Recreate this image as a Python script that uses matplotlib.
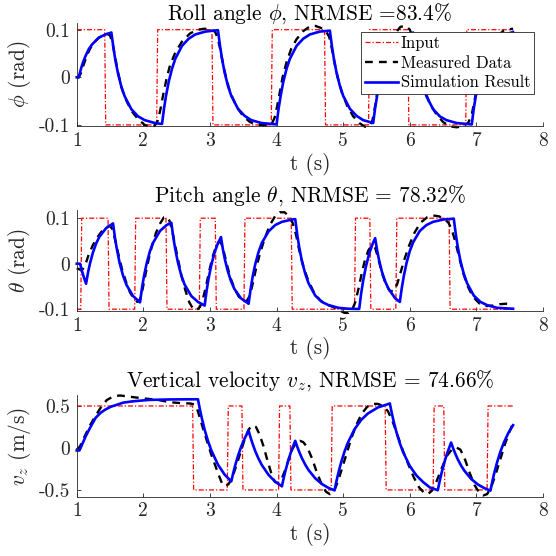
import numpy as np
import matplotlib
matplotlib.use("Agg")
import matplotlib.pyplot as plt
from matplotlib.lines import Line2D

plt.rcParams['font.family'] = 'serif'
plt.rcParams['font.serif'] = ['cmr10']
plt.rcParams['mathtext.fontset'] = 'cm'
plt.rcParams['axes.unicode_minus'] = False

# ---------------- data ----------------
t_end = 7.55

# Roll: input switch times, start level +0.1
roll_switch = [1.42, 2.20, 3.03, 3.92, 4.72, 5.38, 5.97, 6.84]
roll_start_level = 1
roll_amp = 0.1
roll_sim = [(1.00, 0.0), (1.03, 0.0), (1.06, 0.016), (1.09, 0.030), (1.13, 0.044), (1.18, 0.059),
            (1.23, 0.069), (1.33, 0.083), (1.43, 0.090), (1.52, 0.094),
            (1.55, 0.063), (1.58, 0.036), (1.62, 0.008), (1.67, -0.020), (1.72, -0.040), (1.82, -0.067),
            (1.92, -0.082), (2.02, -0.090), (2.17, -0.096), (2.28, -0.098),
            (2.31, -0.066), (2.34, -0.039), (2.38, -0.010), (2.43, 0.018), (2.48, 0.039), (2.58, 0.066),
            (2.68, 0.081), (2.78, 0.090), (2.93, 0.096), (3.12, 0.099),
            (3.15, 0.067), (3.18, 0.040), (3.22, 0.010), (3.27, -0.018), (3.32, -0.039), (3.42, -0.066),
            (3.52, -0.081), (3.62, -0.090), (3.77, -0.096), (4.00, -0.099),
            (4.03, -0.066), (4.06, -0.040), (4.10, -0.010), (4.15, 0.018), (4.20, 0.039), (4.30, 0.066),
            (4.40, 0.081), (4.50, 0.090), (4.65, 0.096), (4.80, 0.098),
            (4.83, 0.066), (4.86, 0.039), (4.90, 0.010), (4.95, -0.018), (5.00, -0.039), (5.10, -0.066),
            (5.20, -0.081), (5.30, -0.090), (5.45, -0.096),
            (5.48, -0.064), (5.51, -0.038), (5.55, -0.009), (5.60, 0.019), (5.65, 0.040), (5.75, 0.067),
            (5.85, 0.081), (5.95, 0.090), (6.05, 0.094),
            (6.08, 0.063), (6.11, 0.036), (6.15, 0.008), (6.20, -0.020), (6.25, -0.040), (6.35, -0.067),
            (6.45, -0.082), (6.55, -0.090), (6.70, -0.096), (6.93, -0.099),
            (6.96, -0.066), (6.99, -0.040), (7.03, -0.010), (7.08, 0.018), (7.13, 0.039), (7.23, 0.066),
            (7.33, 0.081), (7.43, 0.090), (7.55, 0.095)]
roll_meas = [(1.00, -0.002), (1.03, 0.0), (1.06, 0.008), (1.10, 0.025), (1.15, 0.045), (1.20, 0.060),
             (1.26, 0.073), (1.33, 0.083), (1.40, 0.089), (1.46, 0.091), (1.50, 0.088), (1.54, 0.070),
             (1.58, 0.040), (1.62, 0.010), (1.67, -0.020), (1.72, -0.042), (1.82, -0.070), (1.92, -0.088),
             (2.02, -0.100), (2.10, -0.104), (2.17, -0.102), (2.22, -0.090), (2.26, -0.065), (2.30, -0.035),
             (2.35, -0.002), (2.40, 0.025), (2.48, 0.052), (2.58, 0.075), (2.70, 0.092), (2.82, 0.100),
             (2.92, 0.102), (3.02, 0.101), (3.08, 0.095), (3.12, 0.080), (3.16, 0.055), (3.20, 0.025),
             (3.25, -0.005), (3.30, -0.030), (3.40, -0.062), (3.50, -0.082), (3.60, -0.094), (3.72, -0.100),
             (3.85, -0.101), (3.93, -0.097), (3.97, -0.085), (4.01, -0.060), (4.05, -0.030), (4.09, 0.000),
             (4.15, 0.032), (4.22, 0.060), (4.30, 0.080), (4.40, 0.097), (4.50, 0.107), (4.58, 0.108),
             (4.66, 0.104), (4.74, 0.097), (4.79, 0.085), (4.83, 0.060), (4.87, 0.030), (4.92, -0.002),
             (4.98, -0.032), (5.06, -0.060), (5.15, -0.082), (5.25, -0.097), (5.33, -0.104), (5.40, -0.102),
             (5.44, -0.090), (5.48, -0.060), (5.52, -0.025), (5.57, 0.010), (5.63, 0.042), (5.70, 0.070),
             (5.78, 0.092), (5.86, 0.106), (5.94, 0.108), (6.00, 0.100), (6.04, 0.085), (6.08, 0.060),
             (6.12, 0.030), (6.17, 0.000), (6.23, -0.030), (6.30, -0.055), (6.40, -0.078), (6.50, -0.094),
             (6.60, -0.103), (6.70, -0.105), (6.80, -0.103), (6.88, -0.095), (6.93, -0.078), (6.97, -0.050),
             (7.01, -0.020), (7.06, 0.012), (7.12, 0.040), (7.20, 0.065), (7.30, 0.085), (7.40, 0.097),
             (7.50, 0.101), (7.55, 0.102)]

# Pitch: start level -0.1
pitch_switch = [1.06, 1.47, 1.87, 2.34, 2.84, 3.08, 3.51, 4.22, 5.17, 5.40, 5.79, 6.59]
pitch_start_level = -1
pitch_amp = 0.1
pitch_sim = [(1.00, 0.0), (1.05, 0.0), (1.08, -0.017), (1.11, -0.031), (1.14, -0.044),
             (1.17, -0.019), (1.20, 0.001), (1.24, 0.023), (1.29, 0.044), (1.34, 0.059), (1.44, 0.078), (1.545, 0.0885),
             (1.575, 0.056), (1.605, 0.030), (1.645, 0.001), (1.695, -0.026), (1.745, -0.046), (1.845, -0.071), (1.95, -0.085),
             (1.98, -0.053), (2.01, -0.027), (2.05, 0.001), (2.10, 0.028), (2.15, 0.047), (2.25, 0.072), (2.35, 0.085), (2.42, 0.090),
             (2.45, 0.058), (2.48, 0.031), (2.52, 0.002), (2.57, -0.026), (2.62, -0.046), (2.72, -0.071), (2.82, -0.084), (2.92, -0.092),
             (2.95, -0.059), (2.98, -0.032), (3.02, -0.003), (3.07, 0.025), (3.12, 0.045), (3.165, 0.0585),
             (3.195, 0.031), (3.225, 0.009), (3.265, -0.015), (3.315, -0.038), (3.365, -0.055), (3.465, -0.076), (3.58, -0.088),
             (3.61, -0.056), (3.64, -0.029), (3.68, -0.001), (3.73, 0.026), (3.78, 0.046), (3.88, 0.071), (3.98, 0.085),
             (4.08, 0.092), (4.23, 0.097), (4.28, 0.098),
             (4.31, 0.064), (4.34, 0.036), (4.38, 0.006), (4.43, -0.022), (4.48, -0.043), (4.58, -0.070), (4.68, -0.084),
             (4.78, -0.091), (4.93, -0.097), (5.08, -0.099), (5.24, -0.0995),
             (5.27, -0.065), (5.30, -0.037), (5.34, -0.007), (5.39, 0.022), (5.44, 0.043), (5.48, 0.056),
             (5.51, 0.029), (5.54, 0.007), (5.58, -0.017), (5.63, -0.039), (5.68, -0.055), (5.78, -0.076), (5.85, -0.084),
             (5.88, -0.053), (5.91, -0.027), (5.95, 0.001), (6.00, 0.028), (6.05, 0.047), (6.15, 0.072), (6.25, 0.085),
             (6.35, 0.092), (6.50, 0.097), (6.66, 0.099),
             (6.69, 0.065), (6.72, 0.037), (6.76, 0.006), (6.81, -0.022), (6.86, -0.043), (6.96, -0.070), (7.06, -0.084),
             (7.16, -0.091), (7.31, -0.097), (7.55, -0.099)]
pitch_meas = [(1.00, -0.010), (1.05, -0.013), (1.09, -0.012), (1.13, -0.002), (1.18, 0.020), (1.24, 0.040),
              (1.30, 0.056), (1.37, 0.070), (1.44, 0.080), (1.50, 0.083), (1.54, 0.075), (1.58, 0.050),
              (1.63, 0.018), (1.68, -0.012), (1.74, -0.040), (1.80, -0.063), (1.86, -0.078), (1.91, -0.084),
              (1.95, -0.078), (1.99, -0.055), (2.03, -0.025), (2.08, 0.010), (2.13, 0.040), (2.19, 0.068),
              (2.25, 0.088), (2.31, 0.102), (2.35, 0.103), (2.39, 0.095), (2.43, 0.075), (2.47, 0.045),
              (2.52, 0.010), (2.57, -0.025), (2.63, -0.058), (2.69, -0.085), (2.75, -0.100), (2.80, -0.102),
              (2.85, -0.095), (2.89, -0.080), (2.94, -0.050), (2.99, -0.015), (3.04, 0.015), (3.09, 0.038),
              (3.13, 0.048), (3.17, 0.045), (3.21, 0.025), (3.26, -0.005), (3.31, -0.032), (3.37, -0.055),
              (3.43, -0.072), (3.50, -0.082), (3.55, -0.082), (3.60, -0.070), (3.64, -0.045), (3.69, -0.012),
              (3.75, 0.022), (3.82, 0.055), (3.90, 0.085), (3.98, 0.105), (4.05, 0.113), (4.12, 0.113),
              (4.19, 0.104), (4.24, 0.090), (4.29, 0.065), (4.34, 0.030), (4.40, -0.005), (4.47, -0.035),
              (4.55, -0.060), (4.65, -0.080), (4.75, -0.090), (4.85, -0.095), (4.95, -0.103), (5.02, -0.108),
              (5.08, -0.108), (5.13, -0.103), (5.18, -0.085), (5.23, -0.055), (5.28, -0.020), (5.33, 0.010),
              (5.38, 0.030), (5.43, 0.040), (5.48, 0.035), (5.53, 0.010), (5.58, -0.020), (5.64, -0.045),
              (5.70, -0.060), (5.76, -0.060), (5.81, -0.045), (5.86, -0.020), (5.92, 0.010), (5.99, 0.040),
              (6.07, 0.068), (6.16, 0.090), (6.26, 0.102), (6.35, 0.106), (6.44, 0.104), (6.52, 0.098),
              (6.58, 0.090), (6.63, 0.075), (6.68, 0.050), (6.74, 0.015), (6.80, -0.020), (6.87, -0.050),
              (6.95, -0.073), (7.05, -0.088), (7.15, -0.093), (7.25, -0.092), (7.35, -0.089), (7.45, -0.088),
              (7.55, -0.089)]

# Vertical velocity: start level +0.5
vz_switch = [2.74, 3.26, 3.48, 4.03, 4.20, 4.82, 5.63, 6.35, 6.51, 7.16]
vz_start_level = 1
vz_amp = 0.5
vz_sim = [(1.00, -0.03), (1.04, -0.03), (1.08, 0.04), (1.135, 0.14), (1.20, 0.24), (1.285, 0.36),
          (1.36, 0.42), (1.435, 0.46), (1.51, 0.49), (1.585, 0.51), (1.70, 0.54), (1.835, 0.555),
          (2.08, 0.572), (2.40, 0.578), (2.82, 0.58),
          (2.85, 0.455), (2.88, 0.347), (2.92, 0.218), (2.97, 0.084), (3.02, -0.028), (3.12, -0.199),
          (3.22, -0.317), (3.32, -0.398),
          (3.35, -0.295), (3.38, -0.203), (3.42, -0.095), (3.47, 0.019), (3.52, 0.113), (3.58, 0.206),
          (3.61, 0.123), (3.64, 0.050), (3.68, -0.038), (3.73, -0.129), (3.78, -0.205), (3.88, -0.321),
          (3.98, -0.402), (4.08, -0.457),
          (4.11, -0.348), (4.14, -0.251), (4.18, -0.136), (4.23, -0.015), (4.28, 0.085),
          (4.31, 0.015), (4.34, -0.047), (4.38, -0.121), (4.43, -0.198), (4.48, -0.263), (4.58, -0.361),
          (4.68, -0.429), (4.78, -0.476), (4.87, -0.505),
          (4.90, -0.391), (4.93, -0.289), (4.97, -0.169), (5.02, -0.043), (5.07, 0.062), (5.17, 0.223),
          (5.27, 0.334), (5.37, 0.410), (5.52, 0.482), (5.70, 0.530),
          (5.73, 0.413), (5.76, 0.309), (5.80, 0.186), (5.85, 0.057), (5.90, -0.051), (6.00, -0.215),
          (6.10, -0.328), (6.20, -0.406), (6.30, -0.470), (6.42, -0.503),
          (6.45, -0.389), (6.48, -0.287), (6.52, -0.167), (6.56, -0.064), (6.62, 0.065),
          (6.65, -0.003), (6.68, -0.063), (6.72, -0.135), (6.77, -0.210), (6.82, -0.272), (6.92, -0.368),
          (7.02, -0.434), (7.12, -0.479), (7.21, -0.508),
          (7.24, -0.394), (7.27, -0.291), (7.31, -0.171), (7.36, -0.044), (7.41, 0.061), (7.48, 0.180),
          (7.55, 0.271)]
vz_meas = [(1.00, -0.02), (1.05, 0.02), (1.12, 0.14), (1.20, 0.27), (1.28, 0.38), (1.36, 0.48),
           (1.45, 0.57), (1.55, 0.615), (1.65, 0.625), (1.80, 0.61), (2.00, 0.59), (2.20, 0.575),
           (2.40, 0.545), (2.55, 0.535), (2.70, 0.53), (2.76, 0.52), (2.81, 0.46), (2.87, 0.30),
           (2.94, 0.12), (3.02, -0.08), (3.08, -0.21), (3.13, -0.32), (3.18, -0.42), (3.23, -0.455),
           (3.28, -0.43), (3.34, -0.34), (3.40, -0.20), (3.46, -0.05), (3.52, 0.10), (3.58, 0.22),
           (3.64, 0.27), (3.69, 0.25), (3.74, 0.17), (3.80, 0.03), (3.86, -0.14), (3.92, -0.30),
           (3.97, -0.40), (4.02, -0.42), (4.07, -0.38), (4.12, -0.28), (4.18, -0.14), (4.24, -0.01),
           (4.30, 0.07), (4.35, 0.085), (4.40, 0.07), (4.46, 0.01), (4.53, -0.12), (4.60, -0.28),
           (4.67, -0.42), (4.74, -0.52), (4.80, -0.55), (4.86, -0.52), (4.92, -0.40), (4.98, -0.25),
           (5.05, -0.07), (5.12, 0.11), (5.20, 0.28), (5.28, 0.41), (5.36, 0.49), (5.44, 0.525),
           (5.52, 0.525), (5.60, 0.50), (5.67, 0.44), (5.74, 0.32), (5.82, 0.14), (5.90, -0.04),
           (5.98, -0.20), (6.06, -0.35), (6.14, -0.47), (6.21, -0.53), (6.27, -0.55), (6.33, -0.51),
           (6.40, -0.40), (6.48, -0.24), (6.56, -0.09), (6.64, -0.01), (6.70, 0.005), (6.76, -0.02),
           (6.83, -0.14), (6.90, -0.30), (6.97, -0.44), (7.04, -0.53), (7.10, -0.565), (7.16, -0.55),
           (7.22, -0.47), (7.29, -0.31), (7.36, -0.13), (7.43, 0.05), (7.50, 0.20), (7.55, 0.30)]

titles = [r'Roll angle $\phi$, NRMSE =83.4%',
          r'Pitch angle $\theta$, NRMSE = 78.32%',
          r'Vertical velocity $v_z$, NRMSE = 74.66%']
ylabels = [r'$\phi$ (rad)', r'$\theta$ (rad)', r'$v_z$ (m/s)']
xlabel = 't (s)'
xticks = [1, 2, 3, 4, 5, 6, 7, 8]
yticks_list = [[-0.1, 0, 0.1], [-0.1, 0, 0.1], [-0.5, 0, 0.5]]
ytick_labels = [['-0.1', '0', '0.1'], ['-0.1', '0', '0.1'], ['-0.5', '0', '0.5']]
ylims = [(-0.103, 0.114), (-0.104, 0.118), (-0.58, 0.625)]
legend_labels = ['Input', 'Measured Data', 'Simulation Result']


def square_wave(switches, start_level, amp, t0=1.0, t1=t_end, ramp=0.015):
    ts = [t0]
    ys = [start_level * amp]
    lvl = start_level
    for s in switches:
        ts += [s, s + ramp]
        ys += [lvl * amp, -lvl * amp]
        lvl = -lvl
    ts.append(t1)
    ys.append(lvl * amp)
    return ts, ys


panels = [
    (roll_switch, roll_start_level, roll_amp, roll_meas, roll_sim),
    (pitch_switch, pitch_start_level, pitch_amp, pitch_meas, pitch_sim),
    (vz_switch, vz_start_level, vz_amp, vz_meas, vz_sim),
]

fig = plt.figure(figsize=(5.56, 5.56), dpi=100)
ax_rects = [[0.138, 0.7728, 0.8387, 0.1858],
            [0.138, 0.4406, 0.8387, 0.1817],
            [0.138, 0.1067, 0.8387, 0.1820]]
axc = (0.15, 0.15, 0.15)

red_style = dict(color=(1, 0, 0), lw=0.9, linestyle=(0, (4, 1.6, 1, 1.6)))
blk_style = dict(color='black', lw=1.7, linestyle=(0, (3.3, 2.6)))
blu_style = dict(color=(0, 0, 1), lw=1.9)

title_objs = []
for i, (sw, lvl, amp, meas, sim) in enumerate(panels):
    ax = fig.add_axes(ax_rects[i])
    ti, yi = square_wave(sw, lvl, amp)
    ax.plot(ti, yi, **red_style)
    mt, my = zip(*meas)
    ax.plot(mt, my, clip_on=False, **blk_style)
    st, sy = zip(*sim)
    ax.plot(st, sy, clip_on=False, **blu_style)
    ax.set_xlim(1, 8)
    ax.set_ylim(*ylims[i])
    ax.set_xticks(xticks)
    ax.set_xticklabels([str(v) for v in xticks])
    ax.set_yticks(yticks_list[i])
    ax.set_yticklabels(ytick_labels[i])
    for s in ['top', 'right']:
        ax.spines[s].set_visible(False)
    for s in ['left', 'bottom']:
        ax.spines[s].set_color(axc)
        ax.spines[s].set_linewidth(0.6)
    ax.tick_params(direction='in', length=3, width=0.6, colors=axc, labelsize=14, pad=5)
    ax.tick_params(axis='x', pad=4)
    # title placed as a text just above the axes (bottom-anchored)
    t = ax.text(0.5, 1.0 + 2.0 / (ax_rects[i][3] * 556), titles[i], transform=ax.transAxes,
                ha='center', va='bottom', fontsize=15.4, color='black')
    title_objs.append((ax, t))
    ax.set_xlabel(xlabel, fontsize=15.4, color=axc, labelpad=2)
    ax.set_ylabel(ylabels[i], fontsize=15.4, color=axc, labelpad=4)
    if i == 0:
        handles = [Line2D([], [], **red_style), Line2D([], [], **blk_style), Line2D([], [], **blu_style)]
        leg = ax.legend(handles, legend_labels, loc='upper right', bbox_to_anchor=(0.9807, 0.910),
                        fontsize=11.9, frameon=True, fancybox=False, framealpha=1,
                        edgecolor=axc, handlelength=2.0, handletextpad=0.18, labelspacing=0.26,
                        borderpad=0.22, borderaxespad=0.0)
        leg.get_frame().set_linewidth(0.6)

# keep the top title fully inside the figure
fig.canvas.draw()
renderer = fig.canvas.get_renderer()
H = fig.bbox.height
ax0, t0 = title_objs[0]
bb = t0.get_window_extent(renderer)
if bb.y1 > H - 1.5:
    shift = bb.y1 - (H - 1.5)
    x, y = t0.get_position()
    t0.set_position((x, y - shift / ax0.bbox.height))

fig.savefig('out.png', dpi=100)
